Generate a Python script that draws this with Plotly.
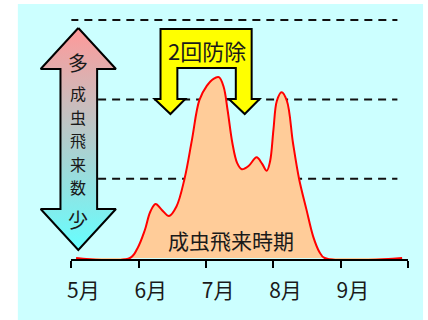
import plotly.graph_objects as go

# ---- data ----
month_ticks = [5, 6, 7, 8, 9, 10]
month_labels = ["5月", "6月", "7月", "8月", "9月", ""]

# adult flight curve (x: month, y: relative flight level)
flight_x = [5.07, 5.87, 5.98, 6.09, 6.17, 6.25, 6.34, 6.45, 6.56, 6.68, 6.79, 6.90,
            7.01, 7.11, 7.19, 7.26, 7.32, 7.39, 7.46, 7.53, 7.63, 7.75, 7.83, 7.90,
            7.95, 8.00, 8.05, 8.12, 8.20, 8.29, 8.38, 8.49, 8.59, 8.68, 8.76, 9.91]
flight_y = [0.00, 0.00, 0.12, 0.35, 0.58, 0.68, 0.61, 0.53, 0.65, 1.00, 1.49, 1.99,
            2.17, 2.26, 2.28, 2.16, 1.86, 1.45, 1.20, 1.12, 1.16, 1.27, 1.19, 1.10,
            1.22, 1.62, 1.98, 2.09, 1.98, 1.45, 1.00, 0.61, 0.27, 0.08, 0.00, 0.00]

levels = [1, 2, 3]

W, H = 428, 320

def py(v):
    return H - v

fig = go.Figure()

# curve
fig.add_trace(go.Scatter(
    x=flight_x, y=flight_y, mode="lines",
    line=dict(color="#FF0000", width=2, shape="spline", smoothing=1.0),
    fill="tozeroy", fillcolor="#FFCC99", hoverinfo="skip",
    xaxis="x", yaxis="y", showlegend=False))

# left double arrow (gradient)
arrow_pts = [(75, 28), (113, 69), (94, 69), (94, 209), (113, 209), (75, 250),
             (37, 209), (57, 209), (57, 69), (37, 69), (75, 28)]
fig.add_trace(go.Scatter(
    x=[p[0] for p in arrow_pts], y=[py(p[1]) for p in arrow_pts],
    mode="lines", fill="toself",
    line=dict(color="#000000", width=2),
    fillgradient=dict(type="vertical", colorscale=[[0, "#66FFFF"], [1, "#FF9999"]]),
    hoverinfo="skip", xaxis="x2", yaxis="y2", showlegend=False))

shapes = []
# cyan background
shapes.append(dict(type="rect", xref="paper", yref="paper",
                   x0=14 / W, x1=423 / W, y0=0, y1=(H - 4) / H,
                   fillcolor="#CCFFFF", line=dict(width=0), layer="below"))
# dashed level lines
x_start = [4.985, 5.397, 5.397]
for lv, xs in zip(levels[::-1], x_start):
    shapes.append(dict(type="line", xref="x", yref="y", x0=xs, x1=9.84, y0=lv, y1=lv,
                       line=dict(color="#111111", width=2, dash="8px,6px"), layer="below"))

# yellow bracket arrow
ya = [(158, 29), (250, 29), (250, 99), (258, 99), (243, 114), (227, 99), (234, 99),
      (234, 68), (175, 68), (175, 99), (183, 99), (168, 114), (152, 99), (158, 99)]
path = "M " + " L ".join(f"{x},{py(y)}" for x, y in ya) + " Z"
shapes.append(dict(type="path", xref="x2", yref="y2", path=path,
                   fillcolor="#FFFF00", line=dict(color="#000000", width=2), layer="above"))

font_jp = "Noto Sans CJK JP"
ann = []
def add_text(t, x, y, size):
    ann.append(dict(text=t, x=x, y=py(y), xref="x2", yref="y2", showarrow=False,
                    font=dict(family=font_jp, size=size, color="#1a1a1a"),
                    xanchor="center", yanchor="middle"))

add_text("多", 75, 62, 20)
for ch, yy in zip("成虫飛来数", [93, 116.5, 140, 163.5, 187]):
    add_text(ch, 75, yy, 16)
add_text("少", 75, 219, 20)
add_text("2回防除", 205, 50, 22)
add_text("成虫飛来時期", 229, 240, 21)

fig.update_layout(
    width=W, height=H, margin=dict(l=0, r=0, t=0, b=0),
    paper_bgcolor="#FFFFFF", plot_bgcolor="rgba(0,0,0,0)",
    shapes=shapes, annotations=ann,
    xaxis=dict(domain=[68 / W, 408 / W], range=[5, 10], anchor="y",
               showline=True, linecolor="#000000", linewidth=2,
               ticks="outside", ticklen=7, tickwidth=2, tickcolor="#000000",
               tickvals=month_ticks, ticktext=month_labels,
               tickfont=dict(family=font_jp, size=21, color="#1a1a1a"),
               ticklabelshift=12, ticklabelstandoff=5,
               showgrid=False, zeroline=False, fixedrange=True),
    yaxis=dict(domain=[(H - 259) / H, 1], range=[-1 / 79.3, 258 / 79.3], anchor="x",
               visible=False, fixedrange=True),
    xaxis2=dict(domain=[0, 1], range=[0, W], anchor="y2", visible=False, fixedrange=True),
    yaxis2=dict(domain=[0, 1], range=[0, H], anchor="x2", visible=False, fixedrange=True),
    showlegend=False,
)

fig.write_html("out.html", config={"displayModeBar": False})
